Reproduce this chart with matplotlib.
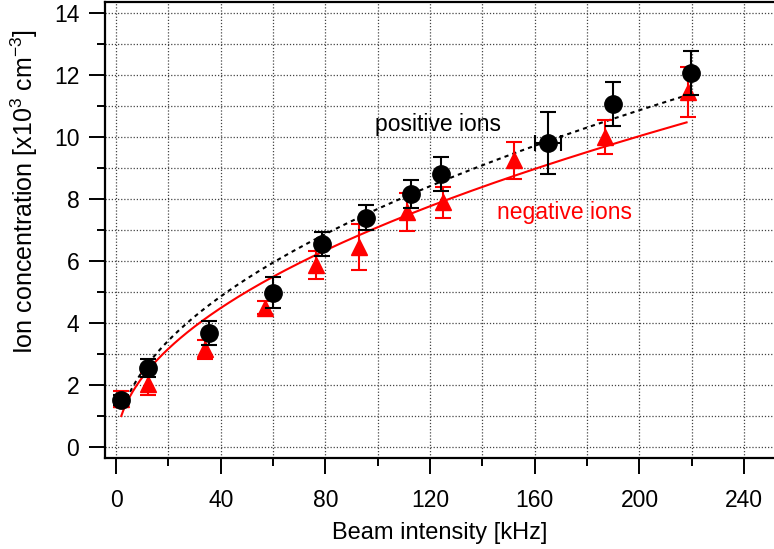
import numpy as np
from matplotlib import pyplot as plt
from matplotlib.ticker import MultipleLocator

plt.rcParams['font.family'] = ['Liberation Sans', 'DejaVu Sans']
plt.rcParams['mathtext.fontset'] = 'custom'
plt.rcParams['mathtext.rm'] = 'Liberation Sans'
plt.rcParams['mathtext.it'] = 'Liberation Sans'

# positive ions (black circles)
pos_x = [1.9, 12.2, 35.5, 60.0, 78.7, 95.5, 112.7, 124.2, 165.0, 190.0, 219.7]
pos_y = [1.52, 2.55, 3.68, 4.97, 6.55, 7.39, 8.16, 8.80, 9.80, 11.06, 12.06]
pos_yerr = [0.15, 0.3, 0.4, 0.5, 0.4, 0.4, 0.45, 0.55, 1.0, 0.7, 0.7]
pos_xerr = [0, 0, 0, 0, 0, 0, 0, 0, 5.0, 0, 0]

# negative ions (red triangles)
neg_x = [1.9, 12.2, 34.0, 57.0, 76.4, 93.0, 111.0, 125.0, 152.0, 187.0, 218.4]
neg_y = [1.55, 2.03, 3.15, 4.50, 5.87, 6.45, 7.58, 7.90, 9.25, 10.00, 11.45]
neg_yerr = [0.25, 0.35, 0.3, 0.2, 0.45, 0.75, 0.6, 0.5, 0.6, 0.55, 0.8]

# power-law fits y = a * x^b
pos_fit = (0.768, 0.5)
neg_fit = (0.709, 0.5)
pos_fit_range = (4.0, 218.0)
neg_fit_range = (2.0, 218.0)

red = '#ff0000'

fig = plt.figure(figsize=(7.74, 5.49), dpi=100)
ax = fig.add_axes([0.1357, 0.1658, 0.8643, 0.8306])

xf = np.linspace(*pos_fit_range, 300)
ax.plot(xf, pos_fit[0] * xf ** pos_fit[1], color='black', linestyle=(0, (2, 2)), linewidth=1.5, zorder=3)
xf = np.linspace(*neg_fit_range, 300)
ax.plot(xf, neg_fit[0] * xf ** neg_fit[1], color=red, linestyle='-', linewidth=1.5, zorder=3)

ax.errorbar(neg_x, neg_y, yerr=neg_yerr, fmt='^', color=red, markersize=11,
            capsize=5.5, elinewidth=1.5, capthick=1.5, zorder=4)
ax.errorbar(pos_x, pos_y, yerr=pos_yerr, xerr=pos_xerr, fmt='o', color='black', markersize=12.5,
            capsize=5.5, elinewidth=1.5, capthick=1.5, zorder=5)

ax.text(99, 10.4, 'positive ions', color='black', fontsize=16.5, va='center', ha='left')
ax.text(145.5, 7.55, 'negative ions', color=red, fontsize=16.5, va='center', ha='left')

ax.set_xlim(-4.2, 251.4)
ax.set_ylim(-0.35, 14.35)
ax.xaxis.set_major_locator(MultipleLocator(40))
ax.xaxis.set_minor_locator(MultipleLocator(20))
ax.yaxis.set_major_locator(MultipleLocator(2))
ax.yaxis.set_minor_locator(MultipleLocator(1))

ax.grid(which='both', color='#444444', linestyle=(0, (1, 1.5)), linewidth=0.9)
ax.set_axisbelow(True)

ax.spines['right'].set_visible(False)
for s in ['left', 'bottom', 'top']:
    ax.spines[s].set_linewidth(1.6)

ax.tick_params(which='major', direction='out', length=11.5, width=1.4, labelsize=16.5, pad=7)
ax.tick_params(which='minor', direction='out', length=6, width=1.4)
ax.tick_params(axis='x', which='both', top=False)
ax.tick_params(axis='x', which='major', pad=11)

ax.set_xlabel('Beam intensity [kHz]', fontsize=17, labelpad=7)
ax.set_ylabel(r'Ion concentration [x10$^{3}$ cm$^{-3}$]', fontsize=18, labelpad=8)
ax.yaxis.set_label_coords(-0.097, 0.585)

fig.savefig('out.png', dpi=100)
